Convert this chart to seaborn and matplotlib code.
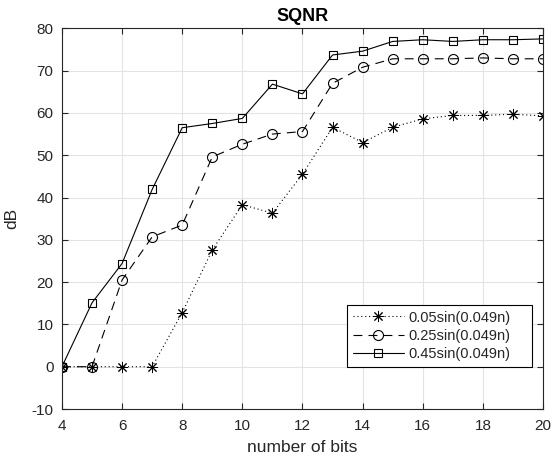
import numpy as np
import pandas as pd
import matplotlib
matplotlib.use("Agg")
import matplotlib.pyplot as plt
import seaborn as sns

bits = [4, 5, 6, 7, 8, 9, 10, 11, 12, 13, 14, 15, 16, 17, 18, 19, 20]
s005 = [0, 0, 0, 0, 12.8, 27.6, 38.3, 36.3, 45.5, 56.6, 53.0, 56.6, 58.6, 59.4, 59.4, 59.7, 59.3]
s025 = [0, 0, 20.5, 30.7, 33.5, 49.6, 52.6, 55.0, 55.6, 67.0, 70.8, 72.8, 72.8, 72.8, 73.0, 72.8, 72.8]
s045 = [0, 15.1, 24.4, 41.9, 56.5, 57.5, 58.7, 66.8, 64.5, 73.7, 74.6, 76.9, 77.3, 76.9, 77.3, 77.3, 77.5]
labels = ["0.05sin(0.049n)", "0.25sin(0.049n)", "0.45sin(0.049n)"]
xticks = [4, 6, 8, 10, 12, 14, 16, 18, 20]
yticks = [-10, 0, 10, 20, 30, 40, 50, 60, 70, 80]

sns.set_style("white")
plt.rcParams['font.family'] = ['Liberation Sans', 'DejaVu Sans']
plt.rcParams['axes.unicode_minus'] = False

fig = plt.figure(figsize=(5.53, 4.62), dpi=100)
ax = fig.add_axes([0.112, 0.1147, 0.870, 0.824])

df = pd.DataFrame({"bits": bits, "a": s005, "b": s025, "c": s045})
styles = [
    dict(linestyle=(0, (1, 2.5)), marker=(8, 2, 0), markersize=8, mew=0.7),
    dict(linestyle=(0, (8, 5.5)), marker='o', markersize=7.2, mfc='none', mew=0.8),
    dict(linestyle='-', marker='s', markersize=5.6, mfc='none', mew=0.8),
]
for col, lab, st in zip(["a", "b", "c"], labels, styles):
    sns.lineplot(data=df, x="bits", y=col, ax=ax, color='black', linewidth=0.8,
                 label=lab, mec='black', **st)

ax.set_xlim(4, 20)
ax.set_ylim(-10, 80)
ax.set_xticks(xticks)
ax.set_yticks(yticks)
ax.grid(True, color='#e3e3e3', linewidth=0.8)
ax.set_axisbelow(True)
tc = '#262626'
ax.tick_params(direction='in', length=4, width=0.8, colors=tc, labelsize=11,
               top=True, right=True, bottom=True, left=True)
ax.tick_params(axis='x', pad=7)
ax.tick_params(axis='y', pad=6)
for sp in ax.spines.values():
    sp.set_visible(True)
    sp.set_color('#262626')
    sp.set_linewidth(0.8)
ax.set_xlabel("number of bits", fontsize=12.5, color=tc, labelpad=5)
ax.set_ylabel("dB", fontsize=12.5, color=tc, labelpad=9)
ax.set_title("SQNR", fontsize=13, fontweight='bold', color='black', pad=5)

leg = ax.legend(loc='lower left', bbox_to_anchor=(0.5925, 0.110, 0.385, 0.158),
                mode='expand', fontsize=10.5,
                frameon=True, fancybox=False, edgecolor='black', framealpha=1,
                handlelength=3.5, borderpad=0.4, labelspacing=0.3,
                handletextpad=0.3, borderaxespad=0)
leg.get_frame().set_linewidth(0.8)
for t in leg.get_texts():
    t.set_color(tc)

fig.savefig("out.png", dpi=100)
